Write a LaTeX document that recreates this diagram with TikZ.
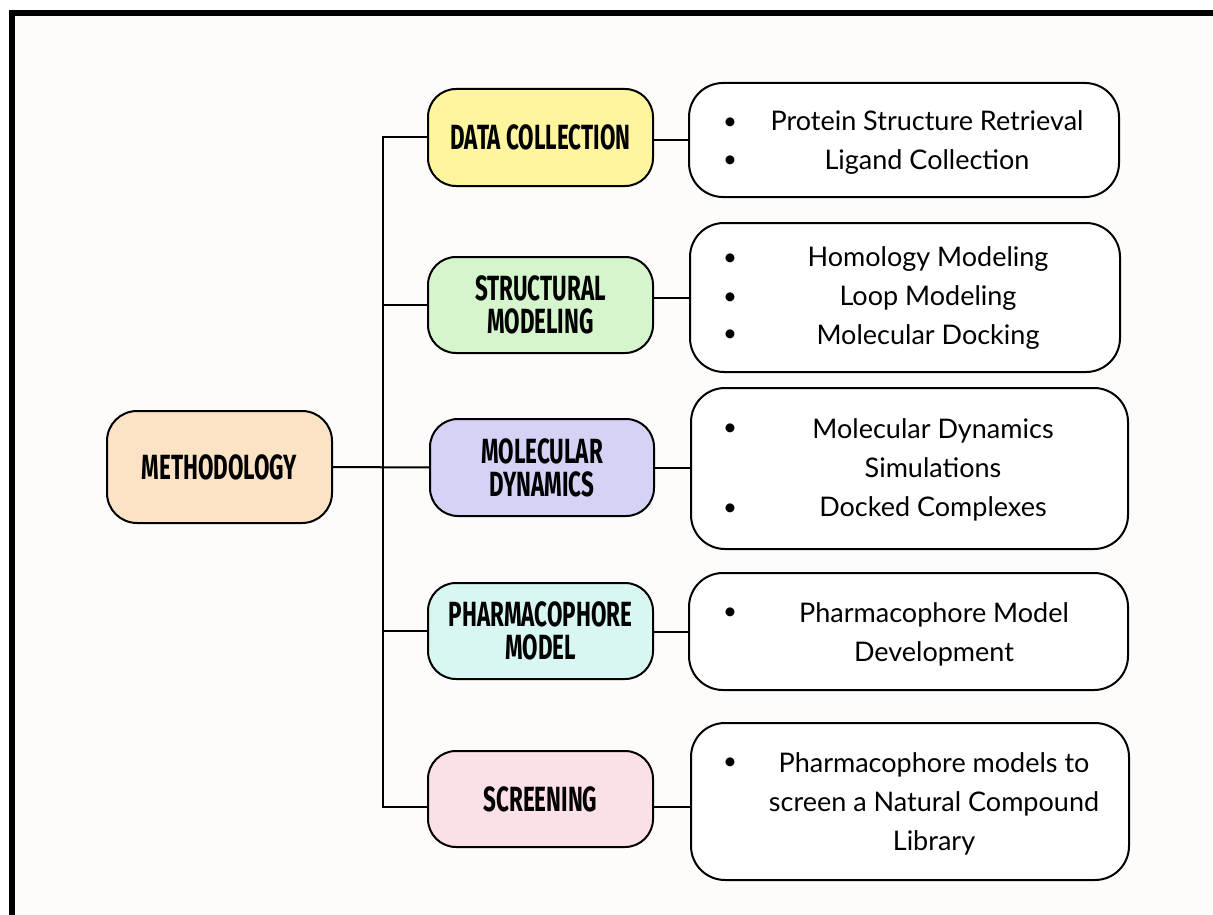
\documentclass[tikz,border=0pt]{standalone}
\usepackage{fontspec}
\setmainfont{Lato}
\newfontfamily\labelfont[FakeStretch=0.64]{Fira Sans}
\definecolor{bgcol}{HTML}{FDFCFA}
\definecolor{methfill}{HTML}{FDE3C6}
\definecolor{dcfill}{HTML}{FEF59E}
\definecolor{smfill}{HTML}{D5F5CC}
\definecolor{mdfill}{HTML}{D5D3F5}
\definecolor{pmfill}{HTML}{D8F7F2}
\definecolor{scrfill}{HTML}{FCE0E8}
\begin{document}
\begin{tikzpicture}[x=1pt,y=-1pt,
  catbox/.style={draw=black,line width=2pt,rounded corners=28pt,inner sep=0pt,outer sep=0pt,
    minimum width=225pt,minimum height=96pt,align=center,
    font=\labelfont\bfseries\fontsize{35}{33}\selectfont},
  detbox/.style={draw=black,line width=2pt,rounded corners=34pt,fill=white,inner sep=0pt,outer sep=0pt},
  dettext/.style={align=center,inner sep=0pt,font=\fontsize{27}{39}\selectfont},
  bul/.style={inner sep=0pt,font=\fontsize{24}{24}\selectfont},
  link/.style={draw=black,line width=2pt}]
\useasboundingbox (0,0) rectangle (1213,915);
\fill[white] (0,0) rectangle (1213,915);
\fill[bgcol] (12,13) rectangle (1213,915);
\draw[line width=6pt] (9,13) -- (1213,13);
\draw[line width=6pt] (12,10) -- (12,915);

% category boxes
\node[catbox,fill=methfill,minimum height=112pt,rounded corners=30pt] (meth) at (219.5,467) {METHODOLOGY};
\node[catbox,fill=dcfill,minimum height=97pt] (dc) at (540.5,137.5) {DATA COLLECTION};
\node[catbox,fill=smfill] (sm) at (540.5,305) {STRUCTURAL\\MODELING};
\node[catbox,fill=mdfill,minimum width=224pt,minimum height=97pt] (md) at (542,467.5) {MOLECULAR\\DYNAMICS};
\node[catbox,fill=pmfill] (pm) at (540.5,631) {PHARMACOPHORE\\MODEL};
\node[catbox,fill=scrfill] (scr) at (540.5,799) {SCREENING};

% detail boxes
\node[detbox,minimum width=430pt,minimum height=114pt] (b1) at (904,140) {};
\node[detbox,minimum width=430pt,minimum height=149pt] (b2) at (905,297.5) {};
\node[detbox,minimum width=437pt,minimum height=161pt] (b3) at (909.5,468.5) {};
\node[detbox,minimum width=439pt,minimum height=117pt] (b4) at (908.5,631.5) {};
\node[detbox,minimum width=438pt,minimum height=157pt] (b5) at (910,801.5) {};

% detail texts
\node[dettext] (t1) at (927,143) {Protein Structure Retrieval\\Ligand Collection};
\node[dettext] (t2) at (928,298) {Homology Modeling\\Loop Modeling\\Molecular Docking};
\node[dettext] (t3) at (933,470) {Molecular Dynamics\\Simulations\\Docked Complexes};
\node[dettext] (t4) at (934,634) {Pharmacophore Model\\Development};
\node[dettext] (t5) at (934,804) {Pharmacophore models to\\screen a Natural Compound\\Library};

% bullets
\node[bul] (u1a) at (730,124) {\textbullet};
\node[bul] (u1b) at (730,162) {\textbullet};
\node[bul] (u2a) at (730,260) {\textbullet};
\node[bul] (u2b) at (730,299) {\textbullet};
\node[bul] (u2c) at (730,336) {\textbullet};
\node[bul] (u3a) at (730,430) {\textbullet};
\node[bul] (u3b) at (730,510) {\textbullet};
\node[bul] (u4a) at (730,614) {\textbullet};
\node[bul] (u5a) at (730,764) {\textbullet};

% connectors
\coordinate (busx) at (383,0);
\coordinate (scrlink) at (383,807);
\draw[link] (meth.east) -- (md.west);
\draw[link] (dc.west) -- (dc.west -| busx) -- (scrlink) -- (scrlink -| scr.west);
\draw[link] (sm.west) -- (sm.west -| busx);
\draw[link] (pm.west) -- (pm.west -| busx);
\draw[link] (dc.east |- b1.west) -- (b1.west);
\draw[link] (sm.east |- b2.west) -- (b2.west);
\draw[link] (md.east) -- (md.east -| b3.west);
\draw[link] (pm.east |- b4.west) -- (b4.west);
\draw[link] (scrlink -| scr.east) -- (scrlink -| b5.west);
\end{tikzpicture}
\end{document}
